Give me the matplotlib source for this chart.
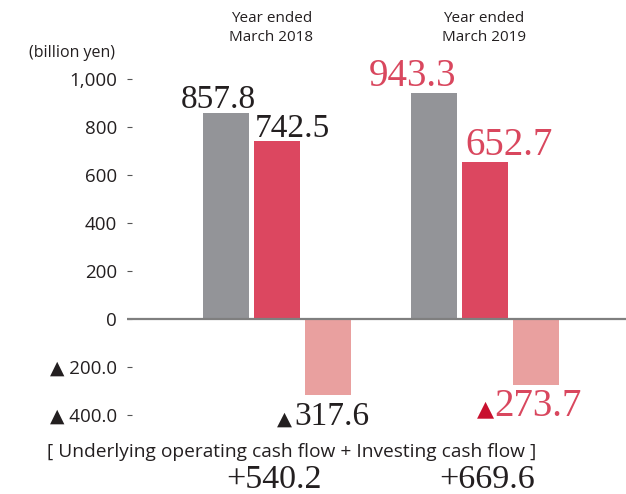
import numpy as np
import matplotlib
matplotlib.use("Agg")
import matplotlib.pyplot as plt

# ── Data ──────────────────────────────────────────────────────────────────────
years = ["Year ended\nMarch 2018", "Year ended\nMarch 2019"]
operating_cf = [857.8, 943.3]       # gray bars
underlying_cf = [742.5, 652.7]      # red bars
investing_cf = [-317.6, -273.7]     # pink bars

yticks = [-400, -200, 0, 200, 400, 600, 800, 1000]
ytick_labels = ["▲ 400.0", "▲ 200.0", "0", "200", "400", "600", "800", "1,000"]

# ── Style ─────────────────────────────────────────────────────────────────────
SANS = ["Open Sans", "DejaVu Sans"]
SERIF = ["Liberation Serif", "DejaVu Serif"]
GRAY, RED, PINK = "#939498", "#DC4760", "#E9A09F"
DARK, LABEL_RED, TRI_RED = "#231F20", "#D9475E", "#C8102E"

fig = plt.figure(figsize=(6.26, 4.94), dpi=100)
ax = fig.add_axes([127 / 626, 0, 1 - 127 / 626, 1])

x = np.arange(len(years))
off, width = 0.245, 0.221
ax.bar(x - off, operating_cf, width, color=GRAY)
ax.bar(x, underlying_cf, width, color=RED)
ax.bar(x + off, investing_cf, width, color=PINK)
ax.axhline(0, color="#7f7f7f", lw=1.6, zorder=3)

ax.set_xlim(-0.7212, 1.678)
ax.set_ylim(-729.2, 1329.2)
ax.set_xticks([])
ax.set_yticks(yticks)
ax.set_yticklabels(ytick_labels, family=SANS, fontsize=13.5, color=DARK)
ax.tick_params(axis="y", direction="in", length=3.6, width=0.8,
               color="#555555", pad=7.2)
for s in ax.spines.values():
    s.set_visible(False)


# value labels (offsets in points relative to the bar end)
def label(xv, yv, txt, dx, dy, size, color):
    ax.annotate(txt, (xv, yv), xytext=(dx, dy), textcoords="offset points",
                ha="center", va="baseline", fontsize=size, color=color,
                family=SERIF)


label(x[0] - off, operating_cf[0], f"{operating_cf[0]:.1f}", -5.4, 3.6, 24, DARK)
label(x[0], underlying_cf[0], f"{underlying_cf[0]:.1f}", 10.8, 2.9, 24, DARK)
label(x[1] - off, operating_cf[1], f"{operating_cf[1]:.1f}", -15.8, 4.8, 28, LABEL_RED)
label(x[1], underlying_cf[1], f"{underlying_cf[1]:.1f}", 17.3, 5.3, 28, LABEL_RED)

# negative labels, prefixed with a triangle mark
neg_style = [(2.9, -21.5, 24, DARK, DARK, 14, 2.0),
             (1.4, -22.3, 28, LABEL_RED, TRI_RED, 16, 0.3)]
for i, (dx, dy, size, col, tcol, tsize, gap) in enumerate(neg_style):
    txt = f"{abs(investing_cf[i]):.1f}"
    label(x[i] + off, investing_cf[i], txt, dx, dy, size, col)
    left = dx - 2.25 * size / 2        # left edge of the digits
    ax.annotate("▲", (x[i] + off, investing_cf[i]), xytext=(left - gap, dy),
                textcoords="offset points", ha="right", va="baseline",
                fontsize=tsize, color=tcol, family=["DejaVu Sans"])

# group headers
for i, name in enumerate(years):
    ax.annotate(name, (x[i], 1158), xytext=(-4 + 3 * i, 0),
                textcoords="offset points", ha="center", va="baseline",
                fontsize=11, color=DARK, family=SANS, linespacing=1.35)

# combined free cash flow
for i in range(len(years)):
    total = operating_cf[i] + investing_cf[i]
    ax.annotate(f"+{total:.1f}", (x[i], -704), xytext=(-2.5 + 4 * i, 0),
                textcoords="offset points", ha="center", va="baseline",
                fontsize=24.5, color=DARK, family=SERIF)

fig.text(292 / 626, 1 - 457 / 494,
         "[ Underlying operating cash flow + Investing cash flow ]",
         ha="center", va="baseline", fontsize=13.8, color=DARK, family=SANS)
fig.text(115 / 626, 1 - 57 / 494, "(billion yen)", ha="right", va="baseline",
         fontsize=11.5, color=DARK, family=SANS)

fig.savefig("out.png", dpi=100)
